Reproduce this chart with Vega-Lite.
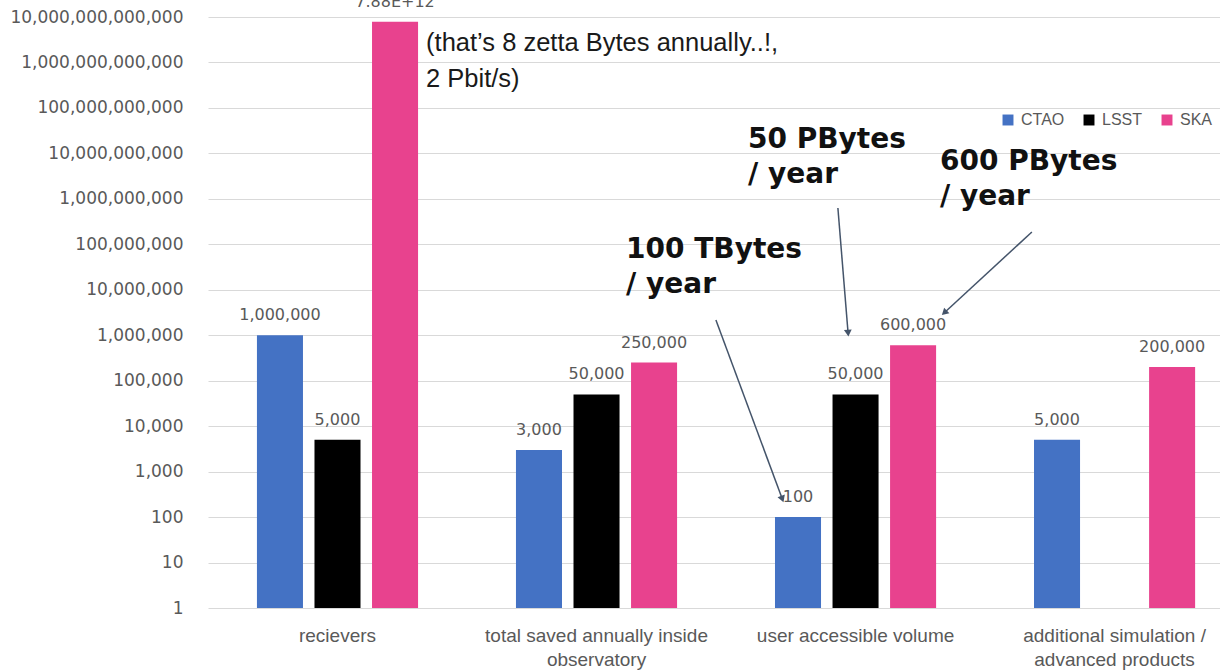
{
  "$schema": "https://vega.github.io/schema/vega-lite/v6.json",
  "autosize": {"type": "none"},
  "padding": {"left": 208, "top": 17, "right": 0, "bottom": 64},
  "width": 1012,
  "height": 591,
  "background": "white",
  "config": {"view": {"stroke": null}},
  "datasets": {
    "bars": [
      {"category": "recievers", "series": "CTAO", "value": 1000000, "label": "1,000,000"},
      {"category": "recievers", "series": "LSST", "value": 5000, "label": "5,000"},
      {"category": "recievers", "series": "SKA", "value": 7880000000000, "label": "7.88E+12"},
      {"category": "total saved annually inside|observatory", "series": "CTAO", "value": 3000, "label": "3,000"},
      {"category": "total saved annually inside|observatory", "series": "LSST", "value": 50000, "label": "50,000"},
      {"category": "total saved annually inside|observatory", "series": "SKA", "value": 250000, "label": "250,000"},
      {"category": "user accessible volume", "series": "CTAO", "value": 100, "label": "100"},
      {"category": "user accessible volume", "series": "LSST", "value": 50000, "label": "50,000"},
      {"category": "user accessible volume", "series": "SKA", "value": 600000, "label": "600,000"},
      {"category": "additional simulation /|advanced products", "series": "CTAO", "value": 5000, "label": "5,000"},
      {"category": "additional simulation /|advanced products", "series": "SKA", "value": 200000, "label": "200,000"}
    ],
    "notes": [
      {"note": "(that’s 8 zetta Bytes annually..!,\n2 Pbit/s)", "gx": 0.842, "gy": 1790000000000, "kind": "plain"},
      {"note": "50 PBytes\n/ year", "gx": 2.085, "gy": 13150000000, "kind": "bold"},
      {"note": "600 PBytes\n/ year", "gx": 2.826, "gy": 4310000000, "kind": "bold"},
      {"note": "100 TBytes\n/ year", "gx": 1.614, "gy": 50000000, "kind": "bold"}
    ],
    "arrows": [
      {"id": "a50", "x1": 2.432, "y1": 630000000, "x2": 2.471, "y2": 1180000},
      {"id": "a600", "x1": 3.181, "y1": 187000000, "x2": 2.846, "y2": 3240000},
      {"id": "a100", "x1": 1.961, "y1": 2160000, "x2": 2.216, "y2": 263}
    ]
  },
  "layer": [
    {
      "data": {"name": "bars"},
      "encoding": {
        "x": {
          "field": "category",
          "type": "nominal",
          "sort": ["recievers", "total saved annually inside|observatory", "user accessible volume", "additional simulation /|advanced products"],
          "scale": {"paddingInner": 0.378, "paddingOuter": 0.1425, "align": 0.663},
          "axis": {
            "title": null,
            "labelAngle": 0,
            "domain": false,
            "ticks": false,
            "grid": false,
            "labelPadding": 18,
            "labelLimit": 400,
            "labelFont": "Liberation Sans",
            "labelFontSize": 19,
            "labelColor": "#595959",
            "labelLineHeight": 24,
            "labelExpr": "split(datum.label, '|')"
          }
        },
        "xOffset": {"field": "series", "type": "nominal", "scale": {"paddingInner": 0.2, "paddingOuter": 0}},
        "y": {
          "field": "value",
          "type": "quantitative",
          "stack": null,
          "scale": {"type": "log", "domain": [1, 10000000000000], "nice": false},
          "axis": {
            "title": null,
            "values": [1, 10, 100, 1000, 10000, 100000, 1000000, 10000000, 100000000, 1000000000, 10000000000, 100000000000, 1000000000000, 10000000000000],
            "format": ",.0f",
            "domain": false,
            "ticks": false,
            "grid": true,
            "gridColor": "#D9D9D9",
            "gridWidth": 1.2,
            "labelPadding": 25,
            "labelFont": "DejaVu Sans",
            "labelFontSize": 17,
            "labelColor": "#595959"
          }
        }
      },
      "layer": [
        {
          "mark": {"type": "bar"},
          "encoding": {
            "y2": {"datum": 1},
            "color": {
              "field": "series",
              "type": "nominal",
              "scale": {"domain": ["CTAO", "LSST", "SKA"], "range": ["#4472C4", "#000000", "#E8428E"]},
              "legend": {
                "title": null,
                "orient": "none",
                "direction": "horizontal",
                "legendX": 792,
                "legendY": 95,
                "symbolType": "square",
                "symbolSize": 120,
                "symbolStrokeWidth": 0,
                "labelFont": "Liberation Sans",
                "labelFontSize": 16,
                "labelColor": "#595959",
                "columnPadding": 16,
                "labelOffset": 5
              }
            }
          }
        },
        {
          "mark": {"type": "text", "baseline": "alphabetic", "dy": -15, "font": "DejaVu Sans", "fontSize": 16, "color": "#595959"},
          "encoding": {"text": {"field": "label"}}
        }
      ]
    },
    {
      "data": {"name": "notes"},
      "transform": [{"filter": "datum.kind == 'plain'"}],
      "mark": {"type": "text", "align": "left", "baseline": "alphabetic", "font": "Liberation Sans", "fontSize": 25.5, "color": "#1a1a1a", "lineBreak": "\n", "lineHeight": 36},
      "encoding": {
        "x": {"field": "gx", "type": "quantitative", "scale": {"domain": [0, 3.9073], "nice": false, "zero": false}, "axis": null},
        "y": {"field": "gy", "type": "quantitative", "scale": {"type": "log", "domain": [1, 10000000000000], "nice": false}, "title": null},
        "text": {"field": "note"}
      }
    },
    {
      "data": {"name": "notes"},
      "transform": [{"filter": "datum.kind == 'bold'"}],
      "mark": {"type": "text", "align": "left", "baseline": "alphabetic", "font": "DejaVu Sans", "fontWeight": "bold", "fontSize": 28, "color": "#111111", "lineBreak": "\n", "lineHeight": 35},
      "encoding": {
        "x": {"field": "gx", "type": "quantitative", "scale": {"domain": [0, 3.9073], "nice": false, "zero": false}, "axis": null},
        "y": {"field": "gy", "type": "quantitative", "scale": {"type": "log", "domain": [1, 10000000000000], "nice": false}, "title": null},
        "text": {"field": "note"}
      }
    },
    {
      "data": {"name": "arrows"},
      "mark": {"type": "rule", "color": "#44546A", "strokeWidth": 1.5},
      "encoding": {
        "x": {"field": "x1", "type": "quantitative", "scale": {"domain": [0, 3.9073], "nice": false, "zero": false}, "axis": null},
        "x2": {"field": "x2"},
        "y": {"field": "y1", "type": "quantitative", "scale": {"type": "log", "domain": [1, 10000000000000], "nice": false}, "title": null},
        "y2": {"field": "y2"}
      }
    },
    {
      "data": {"name": "arrows"},
      "transform": [{"filter": "datum.id == 'a50'"}],
      "mark": {"type": "point", "shape": "triangle", "filled": true, "size": 60, "color": "#44546A", "opacity": 1, "angle": 175},
      "encoding": {
        "x": {"field": "x2", "type": "quantitative", "scale": {"domain": [0, 3.9073], "nice": false, "zero": false}, "axis": null},
        "y": {"field": "y2", "type": "quantitative", "scale": {"type": "log", "domain": [1, 10000000000000], "nice": false}, "title": null}
      }
    },
    {
      "data": {"name": "arrows"},
      "transform": [{"filter": "datum.id == 'a600'"}],
      "mark": {"type": "point", "shape": "triangle", "filled": true, "size": 60, "color": "#44546A", "opacity": 1, "angle": 227},
      "encoding": {
        "x": {"field": "x2", "type": "quantitative", "scale": {"domain": [0, 3.9073], "nice": false, "zero": false}, "axis": null},
        "y": {"field": "y2", "type": "quantitative", "scale": {"type": "log", "domain": [1, 10000000000000], "nice": false}, "title": null}
      }
    },
    {
      "data": {"name": "arrows"},
      "transform": [{"filter": "datum.id == 'a100'"}],
      "mark": {"type": "point", "shape": "triangle", "filled": true, "size": 60, "color": "#44546A", "opacity": 1, "angle": 160},
      "encoding": {
        "x": {"field": "x2", "type": "quantitative", "scale": {"domain": [0, 3.9073], "nice": false, "zero": false}, "axis": null},
        "y": {"field": "y2", "type": "quantitative", "scale": {"type": "log", "domain": [1, 10000000000000], "nice": false}, "title": null}
      }
    }
  ],
  "resolve": {"scale": {"x": "independent"}, "axis": {"x": "independent"}}
}
